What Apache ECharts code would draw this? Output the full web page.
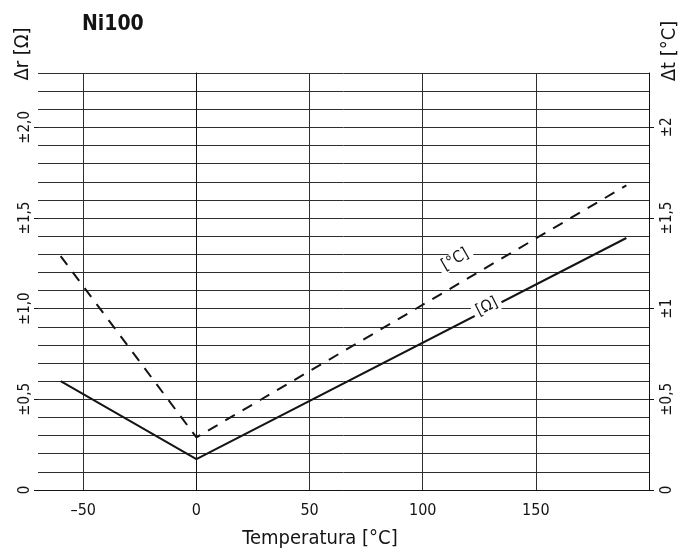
<!DOCTYPE html>
<html>
<head>
<meta charset="utf-8">
<script src="https://cdn.jsdelivr.net/npm/echarts@6/dist/echarts.min.js"></script>
<style>
html,body{margin:0;padding:0;background:#fff;}
#c{width:681px;height:549px;}
</style>
</head>
<body>
<div id="c"></div>
<script>
// ---- data ----
const tempOhm = [-60, 0, 190];
const devOhm = [0.6, 0.17, 1.39];
const tempDeg = [-60, 0, 190];
const devDeg = [1.29, 0.29, 1.68];

const xTicks = [-50, 0, 50, 100, 150];
const xTickLabels = ['\u201350', '0', '50', '100', '150'];
const yTicks = [0, 0.5, 1, 1.5, 2];
const yLeftLabels = ['0', '\u00b10,5', '\u00b11,0', '\u00b11,5', '\u00b12,0'];
const yRightLabels = ['0', '\u00b10,5', '\u00b11', '\u00b11,5', '\u00b12'];

const FONT = "'Liberation Sans Narrow','DejaVu Sans Condensed','Liberation Sans',sans-serif";
const INK = '#141414';
const GRID = '#2e2e2e';

function labelFor(list, labels) {
  return function (v) {
    for (let i = 0; i < list.length; i++) if (Math.abs(list[i] - v) < 1e-6) return labels[i];
    return '';
  };
}

const chart = echarts.init(document.getElementById('c'), null, {renderer: 'canvas'});
const yBase = {type: 'value', min: 0, max: 2.3};

chart.setOption({
  animation: false,
  backgroundColor: '#fff',
  title: {
    text: 'Ni100', left: 77, top: 9,
    textStyle: {fontFamily: FONT, fontSize: 21, fontWeight: 'bold', color: INK}
  },
  grid: {left: 38, right: 32, top: 73, bottom: 59, containLabel: false},
  xAxis: {
    type: 'value', min: -70, max: 200,
    axisLine: {show: true, onZero: false, lineStyle: {color: INK, width: 1}},
    axisTick: {show: false, customValues: xTicks},
    axisLabel: {
      customValues: xTicks, margin: 13,
      formatter: labelFor(xTicks, xTickLabels),
      fontFamily: FONT, fontSize: 16, color: INK
    },
    splitLine: {show: true, lineStyle: {color: GRID, width: 1}}
  },
  yAxis: [
    Object.assign({}, yBase, {
      position: 'left', interval: 0.1,
      axisLine: {show: true, lineStyle: {color: INK, width: 1}},
      axisTick: {show: false},
      axisLabel: {show: false},
      splitLine: {show: true, lineStyle: {color: GRID, width: 1}}
    }),
    Object.assign({}, yBase, {
      position: 'right', offset: 0,
      axisLine: {show: true, lineStyle: {color: INK, width: 1}},
      axisTick: {show: true, customValues: yTicks, length: 5, lineStyle: {color: INK}},
      axisLabel: {
        customValues: yTicks, rotate: 90, margin: 11,
        formatter: labelFor(yTicks, yRightLabels),
        fontFamily: FONT, fontSize: 15, color: INK
      },
      splitLine: {show: false}
    }),
    Object.assign({}, yBase, {
      position: 'left', offset: 0,
      axisLine: {show: false},
      axisTick: {show: true, customValues: yTicks, length: 4, lineStyle: {color: INK}},
      axisLabel: {
        customValues: yTicks, rotate: 90, margin: 5,
        formatter: labelFor(yTicks, yLeftLabels),
        fontFamily: FONT, fontSize: 15, color: INK
      },
      splitLine: {show: false}
    })
  ],
  series: [
    {
      type: 'line', name: 'ohm', yAxisIndex: 0,
      data: tempOhm.map((t, i) => [t, devOhm[i]]),
      symbol: 'none',
      lineStyle: {color: INK, width: 2},
      markPoint: {
        symbol: 'circle', symbolSize: 0,
        label: {
          show: true, position: 'inside', formatter: '[\u03a9]', rotate: 27,
          fontFamily: FONT, fontSize: 16, color: INK,
          backgroundColor: '#fff', padding: [0, 4]
        },
        data: [{coord: [128.4, 1.01]}]
      },
      z: 3
    },
    {
      type: 'line', name: 'deg', yAxisIndex: 0,
      data: tempDeg.map((t, i) => [t, devDeg[i]]),
      symbol: 'none',
      lineStyle: {color: INK, width: 2, type: [11, 9]},
      markPoint: {
        symbol: 'circle', symbolSize: 0,
        label: {
          show: true, position: 'inside', formatter: '[\u00b0C]', rotate: 30,
          fontFamily: FONT, fontSize: 16, color: INK,
          backgroundColor: '#fff', padding: [0, 4]
        },
        data: [{coord: [114.4, 1.27]}]
      },
      z: 3
    }
  ],
  graphic: [
    {
      type: 'text', x: 23, y: 54, rotation: Math.PI / 2,
      style: {text: '\u0394r [\u03a9]', font: "20px " + FONT, fill: INK, textAlign: 'center', textVerticalAlign: 'middle'}
    },
    {
      type: 'text', x: 670, y: 51, rotation: Math.PI / 2,
      style: {text: '\u0394t [\u00b0C]', font: "20px " + FONT, fill: INK, textAlign: 'center', textVerticalAlign: 'middle'}
    },
    {
      type: 'text', x: 320, y: 539,
      style: {text: 'Temperatura [\u00b0C]', font: "20px " + FONT, fill: INK, textAlign: 'center', textVerticalAlign: 'middle'}
    }
  ]
});
</script>
</body>
</html>
